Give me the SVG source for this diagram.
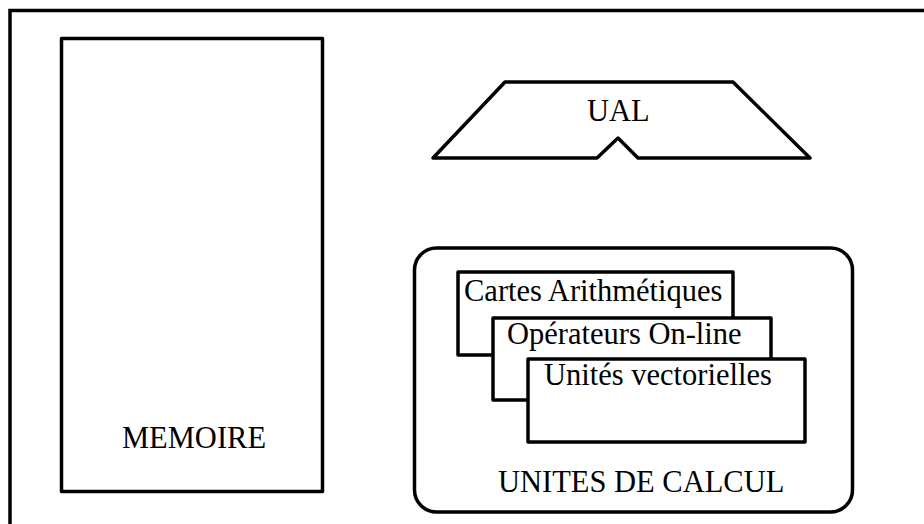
<svg xmlns="http://www.w3.org/2000/svg" width="924" height="524" viewBox="0 0 924 524">
<style>
.s{fill:#fff;stroke:#000;stroke-width:3.5;stroke-linejoin:round}
.t{font-family:"Liberation Serif","Times New Roman",serif;font-size:30.5px;fill:#000}
</style>
<rect width="924" height="524" fill="#fff"/>
<g id="frame">
<path d="M10 524 V10.5 H924" fill="none" stroke="#000" stroke-width="3.5"/>
</g>
<g id="memoire">
<rect class="s" x="61.5" y="38.5" width="261" height="453"/>
<text class="t" x="122" y="448">MEMOIRE</text>
</g>
<g id="ual">
<path class="s" d="M505 82 H733 L810 158 H638 L618 138 L597 158 H433 Z"/>
<text class="t" x="587" y="121">UAL</text>
</g>
<g id="unites-de-calcul">
<rect class="s" x="414.5" y="248" width="438" height="264" rx="22" ry="22"/>
<text class="t" x="498" y="492">UNITES DE CALCUL</text>
</g>
<g id="cartes">
<rect class="s" x="458" y="272" width="275" height="83"/>
<text class="t" x="464" y="301">Cartes Arithmétiques</text>
</g>
<g id="operateurs">
<rect class="s" x="493" y="318" width="278" height="82"/>
<text class="t" x="507" y="344">Opérateurs On-line</text>
</g>
<g id="vectorielles">
<rect class="s" x="528" y="359" width="277" height="83"/>
<text class="t" x="544" y="385">Unités vectorielles</text>
</g>
<g id="connectors"/>
</svg>
